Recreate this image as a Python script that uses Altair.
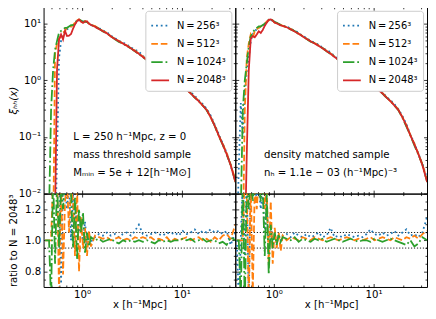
import altair as alt
import pandas as pd

SERIES = ["N\u2009=\u2009256³", "N\u2009=\u2009512³", "N\u2009=\u20091024³", "N\u2009=\u20092048³"]
COLORS = ["#1f77b4", "#ff7f0e", "#2ca02c", "#d62728"]
DASHES = [[1.8, 3.0], [6.7, 2.9], [11.5, 2.9, 1.8, 2.9], [1, 0]]

# separation bins (h^-1 Mpc)
X_SMALL = [0.4266, 0.4467, 0.4677, 0.4898, 0.5129, 0.5370, 0.5623, 0.5888, 0.6166, 0.6457,
           0.6761, 0.7079, 0.7413, 0.7762, 0.8128, 0.8511, 0.8913, 0.9333, 0.9772, 1.0233,
           1.0715, 1.1220, 1.1749, 1.2303]
X_LARGE = [1.349, 1.479, 1.622, 1.778, 1.950, 2.138, 2.344, 2.570, 2.818, 3.090,
           3.388, 3.715, 4.074, 4.467, 4.898, 5.370, 5.888, 6.457, 7.079, 7.762,
           8.511, 9.333, 10.23, 11.22, 12.30, 13.49, 14.79, 16.22, 17.78, 19.50,
           21.38, 23.44, 25.70, 28.18, 30.90, 34.50]

# ---- mass threshold sample (left) ----
TL_SMALL = [
    [.001, .001, .001, .001, .001, .001, .05, 2.5, 5.0, 6.5, 7.5, 8.0, 8.5, 9.0, 9.5, 10.0, 11.0, 11.8, 11.5, 11.0, 11.0, 10.8, 10.3, 9.6],
    [.001, .001, .001, .001, .001, 3.0, 4.5, 5.5, 6.0, 7.0, 7.5, 8.5, 8.5, 9.0, 9.5, 10.5, 11.5, 12.0, 11.0, 10.5, 11.2, 10.8, 10.2, 9.6],
    [.001, .001, .005, 0.3, 1.5, 3.5, 5.0, 7.0, 7.5, 8.0, 8.5, 8.5, 9.0, 9.5, 9.5, 10.5, 11.5, 12.0, 11.5, 10.8, 11.0, 10.8, 10.2, 9.6],
    [.001, .001, .001, .001, .001, .004, 1.6, 5.3, 6.5, 5.3, 7.5, 6.1, 6.2, 6.6, 8.2, 9.8, 11.2, 11.9, 11.0, 10.4, 11.0, 11.1, 10.0, 9.6],
]
TL_RED_LARGE = [8.9, 8.1, 7.4, 6.8, 6.0, 5.4, 4.9, 4.5, 4.1, 3.7, 3.3, 2.95, 2.6, 2.3, 2.04, 1.82, 1.62, 1.43,
                1.26, 1.12, 0.99, 0.87, 0.78, 0.68, 0.59, 0.50, 0.43, 0.36, 0.30, 0.224, 0.158, 0.107,
                0.074, 0.050, 0.032, 0.016]
RL_SMALL = [
    [None, None, None, None, None, None, 1.50, 1.45, 0.72, 1.40, 1.35, 1.20, 1.38, 1.00, 1.30, 1.10, 1.20, 1.05, 1.10, 0.98, 1.12, 0.97, 1.04, 0.99],
    [1.00, 1.00, 1.00, 1.00, 1.40, 1.35, 1.45, 0.65, 1.40, 0.78, 1.25, 1.40, 1.05, 1.35, 1.25, 0.90, 1.35, 0.80, 1.15, 0.95, 1.08, 0.90, 1.06, 0.96],
    [1.00, 1.00, 1.00, 0.60, 1.45, 0.85, 1.40, 0.95, 1.35, 1.20, 1.40, 1.30, 1.38, 1.32, 0.95, 1.28, 0.88, 1.20, 1.05, 1.18, 0.92, 1.05, 0.96, 1.02],
]
RL_LARGE = [
    [1.02, 1.04, 1.03, 1.05, 1.03, 1.04, 1.02, 1.04, 1.05, 1.03, 1.06, 1.10, 1.04, 1.03, 1.04, 1.05, 1.04, 1.03,
     1.05, 1.04, 1.05, 1.03, 1.06, 1.04, 1.05, 1.07, 1.04, 1.06, 1.05, 1.07, 1.05, 1.06, 1.04, 1.06, 0.97, 1.05],
    [1.03, 1.02, 1.01, 1.02, 1.00, 1.01, 1.02, 1.00, 1.01, 1.00, 1.02, 1.01, 1.02, 1.01, 1.02, 1.00, 1.01, 1.00,
     1.02, 0.99, 1.01, 1.00, 1.01, 1.02, 1.00, 1.01, 1.02, 1.00, 1.01, 0.99, 1.02, 1.00, 1.03, 1.04, 1.01, 1.10],
    [1.00, 1.01, 0.99, 1.00, 1.01, 0.99, 0.98, 1.00, 0.99, 1.00, 0.99, 1.00, 0.99, 1.00, 0.99, 0.98, 1.00, 0.99,
     1.00, 0.99, 1.00, 1.00, 1.01, 1.00, 1.01, 0.99, 1.00, 1.01, 0.99, 1.00, 1.00, 0.98, 0.99, 0.97, 1.02, 1.00],
]

# ---- density matched sample (right) ----
TR_SMALL = [
    [.001, .03, .4, .1, .6, 1.5, 2.5, 5.0, 6.5, 7.5, 8.0, 8.5, 8.8, 9.2, 9.8, 10.8, 11.5, 11.8, 11.2, 10.8, 10.3, 10.0, 9.5, 9.2],
    [.001, .001, .001, .001, .3, 2.5, 4.5, 6.5, 5.5, 7.5, 8.0, 8.5, 9.0, 9.5, 10.0, 11.0, 11.5, 12.0, 11.5, 10.5, 10.4, 10.0, 9.6, 9.2],
    [.001, .001, .005, .3, 1.0, 2.0, 4.0, 6.0, 7.0, 8.0, 8.5, 9.0, 9.0, 9.5, 10.0, 11.0, 11.8, 12.2, 11.5, 10.8, 10.4, 10.0, 9.5, 9.3],
    [.001, .001, .001, .001, .001, .05, 1.5, 5.5, 6.1, 5.8, 6.5, 7.4, 6.9, 7.8, 9.2, 10.5, 11.8, 12.0, 11.4, 10.5, 10.2, 9.8, 9.4, 9.2],
]
TR_RED_LARGE = [8.7, 8.0, 7.3, 6.7, 6.0, 5.4, 4.9, 4.5, 4.1, 3.7, 3.3, 2.95, 2.6, 2.3, 2.04, 1.82, 1.62, 1.43,
                1.26, 1.12, 0.99, 0.87, 0.78, 0.68, 0.59, 0.50, 0.43, 0.36, 0.30, 0.224, 0.158, 0.107,
                0.074, 0.050, 0.032, 0.016]
RR_SMALL = [
    [1.00, 0.60, 1.00, 1.40, 0.90, 1.40, 0.60, 1.45, 1.30, 1.40, 1.25, 1.35, 1.20, 1.30, 1.05, 1.25, 0.95, 1.10, 1.00, 1.04, 0.98, 1.03, 1.00, 1.03],
    [1.00, 1.00, 1.00, 1.00, 1.45, 1.30, 0.60, 1.40, 0.65, 1.35, 1.20, 1.40, 1.30, 1.40, 1.20, 1.35, 0.84, 1.25, 0.85, 1.08, 0.95, 1.05, 0.93, 1.03],
    [1.00, 1.00, 0.60, 1.45, 0.55, 1.40, 1.20, 1.42, 1.25, 1.38, 1.30, 1.40, 1.25, 1.35, 0.90, 1.30, 0.78, 1.10, 0.95, 1.05, 0.97, 1.04, 0.99, 1.02],
]
RR_LARGE = [
    [1.04, 1.02, 1.05, 1.03, 1.02, 1.04, 1.02, 1.03, 1.05, 1.02, 1.03, 1.08, 1.02, 1.03, 1.02, 1.04, 1.03, 1.02,
     1.03, 1.02, 1.04, 1.07, 1.04, 1.03, 1.05, 1.03, 1.04, 1.06, 1.03, 1.05, 1.07, 1.03, 1.04, 1.02, 1.05, 1.15],
    [1.00, 1.02, 1.01, 1.00, 1.02, 1.01, 1.00, 1.02, 1.01, 1.00, 1.01, 1.02, 1.01, 1.00, 1.01, 1.02, 1.01, 1.00,
     1.01, 1.00, 1.01, 1.02, 1.00, 1.01, 1.02, 1.01, 1.00, 1.02, 1.01, 1.00, 1.02, 1.01, 1.03, 1.01, 1.04, 1.06],
    [1.01, 1.00, 1.02, 0.99, 1.01, 1.00, 0.99, 1.01, 1.00, 1.01, 0.99, 1.00, 1.01, 1.00, 0.99, 1.00, 1.01, 1.00,
     0.99, 1.00, 1.00, 0.99, 1.01, 1.00, 0.99, 1.00, 1.01, 1.00, 0.99, 0.98, 0.97, 1.00, 0.96, 0.98, 1.02, 1.00],
]

NOTES_LEFT = ["L = 250 h⁻¹Mpc, z = 0", "mass threshold sample", "Mₘᵢₙ = 5e + 12[h⁻¹M⊙]"]
NOTES_LEFT_X = [0.815, 0.815, 0.815]
NOTES_LEFT_Y = [0.098, 0.048, 0.023]
NOTES_RIGHT = ["density matched sample", "nₕ = 1.1e − 03 (h⁻¹Mpc)⁻³"]
NOTES_RIGHT_X = [0.80, 0.80]
NOTES_RIGHT_Y = [0.048, 0.023]

GUIDES = [0.95, 1.05]
X_MAJOR = [1, 10]
X_MINOR = [0.5, 0.6, 0.7, 0.8, 0.9, 2, 3, 4, 5, 6, 7, 8, 9, 20, 30]
YT_MAJOR = [0.01, 0.1, 1, 10]
YT_MINOR = [0.02, 0.03, 0.04, 0.05, 0.06, 0.07, 0.08, 0.09, 0.2, 0.3, 0.4, 0.5, 0.6, 0.7, 0.8, 0.9,
            2, 3, 4, 5, 6, 7, 8, 9]
YB_MAJOR = [0.8, 1.0, 1.2]
YB_MINOR = [0.75, 0.85, 0.9, 0.95, 1.05, 1.1, 1.15, 1.25]

FONT = "DejaVu Sans"
FS = 10.3
W = 194
H_TOP = 189
H_BOT = 94.5

XS = alt.Scale(type="log", domain=[0.412, 34.4], nice=False)
YT = alt.Scale(type="log", domain=[0.01, 20], nice=False)
YB = alt.Scale(domain=[0.7, 1.3], nice=False, zero=False)


def top_frame(small, red_large, ratio_large):
    rows = []
    for k, s in enumerate(SERIES):
        for xv, yv in zip(X_SMALL, small[k]):
            rows.append({"x": xv, "xi": yv, "N": s})
        for i, xv in enumerate(X_LARGE):
            f = ratio_large[k][i] if k < 3 else 1.0
            rows.append({"x": xv, "xi": red_large[i] * f, "N": s})
    return pd.DataFrame(rows)


def bot_frame(small, large):
    rows = []
    for k in range(3):
        for xv, rv in zip(X_SMALL + X_LARGE, small[k] + large[k]):
            rows.append({"x": xv, "r": rv, "N": SERIES[k]})
    return pd.DataFrame(rows)


def tick_layers(data, yfield, yscale, ymaj, ymin):
    out = []
    for ox, oy, xv, yv, size in [("bottom", "left", X_MAJOR, ymaj, 3.5),
                                  ("bottom", "left", X_MINOR, ymin, 2.0),
                                  ("top", "right", X_MAJOR, ymaj, 3.5),
                                  ("top", "right", X_MINOR, ymin, 2.0)]:
        common = dict(tickSize=size, offset=-size, labels=False, domain=False, grid=False,
                      title=None, tickColor="black", tickWidth=0.8)
        out.append(alt.Chart(data).mark_point(opacity=0, size=1).encode(
            x=alt.X("x:Q", scale=XS, axis=alt.Axis(orient=ox, values=xv, **common)),
            y=alt.Y(f"{yfield}:Q", scale=yscale, axis=alt.Axis(orient=oy, values=yv, **common)),
        ))
    return out


LEG = alt.Legend(title=None, orient="top-right", offset=4, symbolType="M-1,0H1", symbolSize=324,
                 symbolStrokeWidth=1.8, labelFontSize=10, labelFont=FONT, fillColor="white",
                 strokeColor="#cccccc", cornerRadius=3, padding=5, rowPadding=3.5, labelOffset=7,
                 labelColor="black")

Y_TOP_AXIS = alt.Axis(values=YT_MAJOR, ticks=False, domain=False, grid=False, labelPadding=3,
                      labelExpr="datum.value < 0.05 ? '10⁻²' : datum.value < 0.5 ? '10⁻¹' : datum.value < 5 ? '10⁰' : '10¹'",
                      title="ξₕₕ(x)", titleFontStyle="italic", titlePadding=1, minExtent=24, maxExtent=24)
Y_BOT_AXIS = alt.Axis(values=YB_MAJOR, format=".1f", ticks=False, domain=False, grid=False, labelPadding=3,
                      title="ratio to N = 2048³", titlePadding=1, minExtent=24, maxExtent=24)
X_BOT_AXIS = alt.Axis(values=X_MAJOR, ticks=False, domain=False, grid=False, labelPadding=3,
                      labelExpr="datum.value < 5 ? '10⁰' : '10¹'", title="x [h⁻¹Mpc]", titlePadding=-1)


def top_panel(df, nx, ny, nl, left):
    layers = []
    for k, s in enumerate(SERIES):
        yax = Y_TOP_AXIS if (left and k == 0) else None
        layers.append(alt.Chart(df[df["N"] == s]).mark_line(strokeWidth=1.8, clip=True).encode(
            x=alt.X("x:Q", scale=XS, axis=None),
            y=alt.Y("xi:Q", scale=YT, axis=yax),
            color=alt.Color("N:N", scale=alt.Scale(domain=SERIES, range=COLORS), legend=LEG),
            strokeDash=alt.StrokeDash("N:N", scale=alt.Scale(domain=SERIES, range=DASHES), legend=LEG),
        ))
    notes = pd.DataFrame({"x": nx, "xi": ny, "t": nl})
    layers.append(alt.Chart(notes).mark_text(align="left", baseline="middle", font=FONT, fontSize=FS,
                                             color="black").encode(
        x=alt.X("x:Q", scale=XS, axis=None), y=alt.Y("xi:Q", scale=YT, axis=None), text="t:N"))
    layers += tick_layers(notes, "xi", YT, YT_MAJOR, YT_MINOR)
    return alt.layer(*layers).resolve_axis(x="independent", y="independent").properties(width=W, height=H_TOP)


def bot_panel(df, left):
    layers = [alt.Chart(pd.DataFrame({"r": GUIDES})).mark_rule(color="black", strokeWidth=0.9,
                                                               strokeDash=[1.2, 1.8]).encode(
        y=alt.Y("r:Q", scale=YB, axis=None))]
    for k in range(3):
        xax = X_BOT_AXIS if k == 0 else None
        yax = Y_BOT_AXIS if (left and k == 0) else None
        layers.append(alt.Chart(df[df["N"] == SERIES[k]]).mark_line(
            color=COLORS[k], strokeDash=DASHES[k], strokeWidth=1.8, clip=True).encode(
            x=alt.X("x:Q", scale=XS, axis=xax),
            y=alt.Y("r:Q", scale=YB, axis=yax),
        ))
    layers += tick_layers(pd.DataFrame({"x": [1.0], "r": [1.0]}), "r", YB, YB_MAJOR, YB_MINOR)
    return alt.layer(*layers).resolve_axis(x="independent", y="independent").properties(width=W, height=H_BOT)


tl = top_panel(top_frame(TL_SMALL, TL_RED_LARGE, RL_LARGE), NOTES_LEFT_X, NOTES_LEFT_Y, NOTES_LEFT, True)
tr = top_panel(top_frame(TR_SMALL, TR_RED_LARGE, RR_LARGE), NOTES_RIGHT_X, NOTES_RIGHT_Y, NOTES_RIGHT, False)
bl = bot_panel(bot_frame(RL_SMALL, RL_LARGE), True)
br = bot_panel(bot_frame(RR_SMALL, RR_LARGE), False)

res = dict(x="independent", y="independent", color="independent", strokeDash="independent")
chart = alt.concat(tl, tr, bl, br, columns=2, spacing=0, bounds="flush", align="each").resolve_scale(
    **res
).properties(
    padding={"left": 0, "top": -4, "right": 0, "bottom": 0}
).configure_view(stroke="black", strokeWidth=1).configure_axis(
    labelFont=FONT, titleFont=FONT, labelFontSize=FS, titleFontSize=FS, labelColor="black",
    titleColor="black", titleFontWeight="normal"
)

chart.save("out.html", embed_options={"renderer": "svg", "actions": False})
